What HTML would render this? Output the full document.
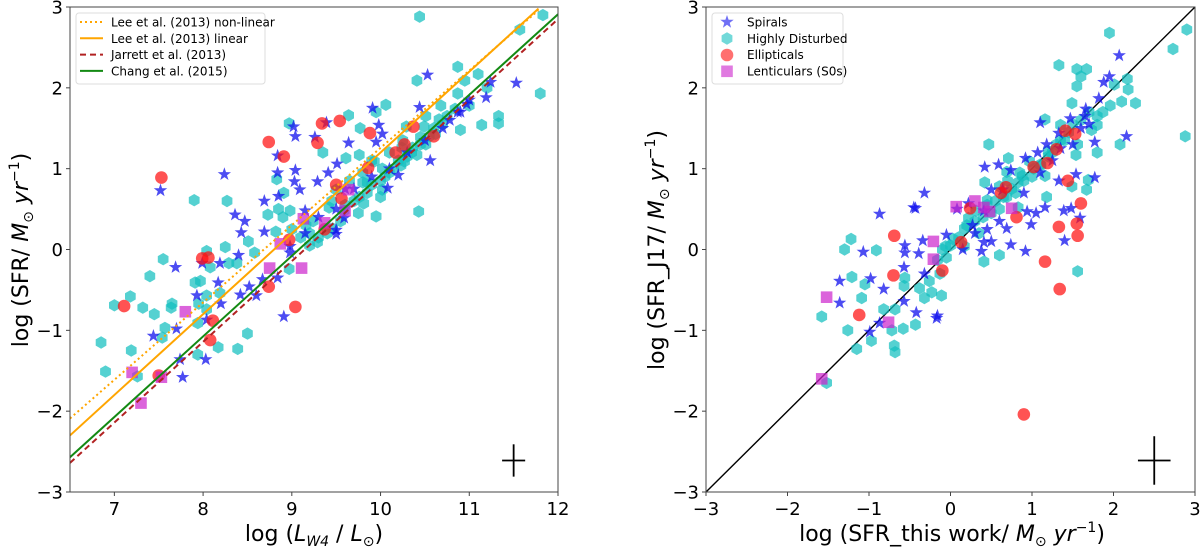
<!DOCTYPE html>
<html><head><meta charset="utf-8"><style>
body{margin:0;background:#fff}
svg{display:block;font-family:"DejaVu Sans","Liberation Sans",sans-serif}
</style></head><body>
<svg id="fig" width="1200" height="551"></svg>
<script>
// ---- Left panel data ----
const L_cyanX=[10.44,11.83,11.57,11.8,10.87,10.41,11.1,10.95,10.87,11.2,10.06,9.95,9.64,8.97,9.77,10.9,11.14,11.33,11.33,10.29,10.51,10.68,9.35,9.61,9.76,9.93,10.41,10.51,10.24,10.02,8.83,8.91,10.43,9.95,7.9,8.27,8.51,8.58,8.73,8.82,8.98,9.16,9.29,9.46,9.76,9.85,9.59,9.2,8.97,8.25,8.04,8.08,8.29,8.38,7.55,7.4,7.91,7.97,8.04,8.19,7.18,7.0,7.32,7.45,7.65,7.64,7.95,8.04,7.57,7.54,7.94,6.85,7.19,8.5,8.17,8.39,7.94,6.9,7.26,9.8,10.02,10.23,10.36,10.62,10.75,10.49,9.5,9.42,9.24,9.81,10.1,10.27,10.45,10.66,10.84,11.0,
9.4,9.55,9.6,9.7,9.75,9.85,9.9,10.0,10.05,10.15,10.2,10.3,10.35,10.45,10.55,10.6,10.7,9.3,9.2,9.1,9.0,8.9,8.85,9.45,9.65,9.8,10.1,10.25,9.9,10.0];
const L_cyanY=[2.88,2.9,2.72,1.93,2.26,2.09,2.17,2.09,1.93,2.0,1.79,1.7,1.66,1.56,1.5,1.48,1.54,1.65,1.56,1.52,1.65,1.78,1.2,1.13,1.17,1.09,1.17,1.3,1.26,1.0,0.87,0.7,0.47,0.41,0.61,0.6,0.1,-0.04,0.43,0.22,0.48,0.3,0.09,0.26,0.65,0.83,0.48,0.05,-0.24,0.03,-0.02,-0.22,-0.17,-0.17,-0.12,-0.33,-0.41,-0.39,-0.57,-0.54,-0.58,-0.69,-0.72,-0.8,-0.67,-0.72,-0.67,-0.74,-0.97,-1.09,-0.91,-1.15,-1.25,-1.04,-1.21,-1.23,-1.3,-1.51,-1.57,0.83,0.74,1.04,1.26,1.43,1.65,1.52,0.74,0.52,0.35,0.57,0.95,1.09,1.39,1.61,1.74,1.78,
0.2,0.35,0.55,0.6,0.45,0.7,0.8,0.85,0.9,1.0,1.1,1.15,1.2,1.3,1.4,1.5,1.55,0.15,0.2,0.15,0.25,0.4,0.5,0.6,0.85,0.95,1.2,1.35,1.1,0.65];
const L_starX=[10.53,11.53,11.24,11.19,10.97,10.78,10.87,9.91,10.44,9.98,9.95,10.02,9.02,9.04,9.26,9.39,9.64,8.84,8.24,7.52,8.84,9.04,9.03,9.09,9.29,9.41,9.51,10.56,10.2,10.08,8.69,8.85,8.36,8.47,8.43,8.69,9.15,9.5,9.5,9.59,8.4,7.69,7.99,8.19,8.17,7.93,8.2,8.42,8.52,8.6,8.67,8.84,8.98,7.7,7.44,8.04,7.74,8.03,7.77,8.91,8.98,
9.7,9.9,10.1,10.3,10.5,10.7,9.5,9.3,9.15,9.6,10.9,11.0];
const L_starY=[2.16,2.06,2.07,1.88,1.8,1.6,1.7,1.75,1.76,1.54,1.33,1.43,1.52,1.4,1.39,1.57,1.32,1.16,0.93,0.73,0.95,0.98,0.84,0.74,0.84,0.95,1.06,1.1,0.92,0.76,0.6,0.66,0.43,0.35,0.21,0.22,0.48,0.24,0.19,0.39,-0.07,-0.22,-0.17,-0.17,-0.41,-0.57,-0.67,-0.56,-0.46,-0.57,-0.37,-0.35,-0.04,-0.98,-1.07,-0.87,-1.36,-1.36,-1.58,-0.83,0.04,
0.75,0.9,1.0,1.2,1.35,1.5,0.5,0.4,0.2,0.75,1.7,1.85];
const L_redX=[7.53,8.74,8.91,9.34,9.54,9.29,9.88,10.37,10.6,10.27,10.17,9.86,9.5,9.56,8.97,7.99,8.06,8.74,9.04,7.11,8.11,8.08,7.5,9.37];
const L_redY=[0.89,1.33,1.15,1.56,1.59,1.32,1.44,1.52,1.4,1.3,1.2,1.01,0.8,0.63,0.12,-0.11,-0.1,-0.46,-0.71,-0.7,-0.88,-1.12,-1.56,0.25];
const L_magX=[9.64,9.13,9.37,9.6,8.87,8.75,9.11,7.8,7.2,7.53,7.3];
const L_magY=[0.74,0.38,0.33,0.48,0.07,-0.23,-0.23,-0.77,-1.52,-1.58,-1.9];
const L_xTicks=[7,8,9,10,11,12];
const yTicks=[-3,-2,-1,0,1,2,3];
const leeNonlin=[6.5,-2.09,11.78,2.96];
const leeLin=[6.5,-2.3,11.78,2.98];
const jarrett=[6.5,-2.64,12,2.85];
const chang=[6.5,-2.57,12,2.91];
const L_err=[11.5,-2.61,0.13,0.2];

// ---- Right panel data ----
const R_cyanX=[1.95,2.9,2.73,2.88,1.33,1.55,1.67,1.6,1.55,1.49,2.01,2.17,2.18,2.1,2.27,1.96,1.8,1.8,1.16,1.35,0.47,0.71,2.08,1.8,1.56,1.54,1.49,1.67,1.69,0.42,1.18,1.56,0.6,0.41,0.88,0.97,1.2,0.69,0.83,0.22,0.03,0.17,-0.16,-0.13,-0.26,-0.11,-0.23,-0.32,-0.43,-0.38,-0.56,-0.57,-0.58,-0.68,-0.72,-0.69,-0.68,-0.82,-0.91,-1.05,-1.09,-1.22,-1.3,-1.21,-1.58,-1.26,-1.15,-0.97,-1.52,1.16,0.45,0.31,1.11,1.35,1.73,1.87,0.83,1.02,0.6,0.17,-0.06,0.69,
0.2,0.3,0.4,0.5,0.55,0.65,0.75,0.8,0.9,1.0,1.1,1.2,1.3,1.4,1.45,1.5,1.6,1.7,0.1,0.0,-0.1,0.35,0.6,0.85,1.25,-0.05,0.45,0.7];
const R_cyanY=[2.68,2.72,2.48,1.4,2.28,2.23,2.23,2.14,2.02,1.81,2.04,2.11,1.98,1.83,1.81,1.78,1.65,1.54,1.61,1.54,1.3,1.13,1.3,1.2,1.3,1.17,0.78,0.74,0.86,0.83,0.65,-0.27,-0.07,-0.15,0.91,1.09,1.22,0.65,0.52,0.39,0.13,0.04,-0.13,-0.3,-0.39,-0.57,-0.53,-0.6,-0.93,-0.48,-0.35,-0.45,-0.98,-0.74,-1.0,-1.19,-1.27,-0.74,-0.01,-0.43,-0.6,0.13,0.0,-0.34,-0.83,-1.0,-1.23,-1.13,-1.65,0.91,0.61,0.48,1.04,1.35,1.48,1.7,0.83,1.0,0.78,0.26,0.04,0.96,
0.3,0.35,0.4,0.45,0.6,0.65,0.75,0.7,0.85,0.9,1.05,1.15,1.3,1.35,1.45,1.55,1.6,1.7,0.15,0.05,0.0,0.2,0.5,0.95,1.2,-0.1,0.55,0.85];
const R_starX=[2.07,1.95,1.88,1.82,1.66,1.65,2.16,1.77,1.1,1.47,1.33,1.18,1.07,0.92,0.42,0.59,0.74,1.33,1.54,1.77,0.64,0.5,-0.32,-0.45,-0.43,-0.87,0.08,0.22,0.41,0.94,1.05,0.99,1.39,1.48,1.59,1.16,1.4,0.74,0.92,-0.56,-0.56,-0.39,-0.34,-1.07,-0.05,0.38,-0.57,-0.32,-1.36,-0.98,-0.82,-1.36,-0.57,-0.42,-0.16,-0.17,-0.87,-0.99,0.41,0.69,0.27,
0.3,0.45,0.6,0.9,1.1,1.25,1.5,1.6,0.15,0.5,1.35,1.7];
const R_starY=[2.4,2.14,2.07,1.87,1.74,1.65,1.4,1.33,1.57,1.62,1.44,1.3,1.2,1.13,1.02,1.05,0.98,0.85,0.93,0.89,0.74,0.74,0.7,0.52,0.51,0.44,0.5,0.57,0.48,0.47,0.45,0.31,0.48,0.51,0.39,0.52,0.11,0.06,-0.02,0.05,-0.04,-0.05,0.11,-0.03,0.18,-0.02,-0.22,-0.3,-0.39,-0.36,-0.49,-0.66,-0.64,-0.78,-0.82,-0.85,-0.91,-1.02,0.09,0.26,0.3,
0.2,0.25,0.35,0.7,0.95,1.1,1.3,1.5,0.0,0.1,1.25,1.55];
const R_redX=[1.41,1.53,1.3,1.19,1.02,0.68,0.62,1.44,1.6,0.81,0.24,1.33,1.55,1.56,-0.69,0.13,-0.1,-0.7,1.16,1.34,-1.12,0.9];
const R_redY=[1.47,1.43,1.24,1.07,1.02,0.77,0.7,0.85,0.57,0.4,0.51,0.28,0.32,0.17,0.17,0.09,-0.26,-0.32,-0.15,-0.49,-0.81,-2.04];
const R_magX=[0.07,0.3,0.41,0.48,0.75,-0.21,-0.21,-1.52,-0.76,-1.58];
const R_magY=[0.53,0.6,0.52,0.47,0.51,0.1,-0.12,-0.59,-0.9,-1.6];
const R_xTicks=[-3,-2,-1,0,1,2,3];
const R_err=[2.5,-2.61,0.2,0.3];

const NS='http://www.w3.org/2000/svg';
const svg=document.getElementById('fig');
function mk(tag,attrs,parent){const e=document.createElementNS(NS,tag);for(const k in attrs)e.setAttribute(k,attrs[k]);(parent||svg).appendChild(e);return e;}
function axis(x0,x1,px0,px1){return v=>px0+(v-x0)/(x1-x0)*(px1-px0);}
const yTop=7,yBot=492;
function starPath(cx,cy,R){const r=R*0.4;let d='';for(let i=0;i<10;i++){const a=-Math.PI/2+i*Math.PI/5;const rr=i%2?r:R;d+=(i?'L':'M')+(cx+rr*Math.cos(a)).toFixed(1)+','+(cy+rr*Math.sin(a)).toFixed(1);}return d+'Z';}
function hexPath(cx,cy,R){let d='';for(let i=0;i<6;i++){const a=-Math.PI/2+i*Math.PI/3;d+=(i?'L':'M')+(cx+R*Math.cos(a)).toFixed(1)+','+(cy+R*Math.sin(a)).toFixed(1);}return d+'Z';}

function panel(g,sx,sy,cx,cy,sx2,sy2,rx,ry,mx,my){
  for(let i=0;i<cx.length;i++){const p=mk('path',{d:hexPath(sx(cx[i]),sy(cy[i]),6.2),fill:'#14bfbf','fill-opacity':0.72},g);
    
    }
  for(let i=0;i<sx2.length;i++){const p=mk('path',{d:starPath(sx(sx2[i]),sy(sy2[i]),7),fill:'#1010ee','fill-opacity':0.75},g);
    
    }
  for(let i=0;i<rx.length;i++){const p=mk('circle',{cx:sx(rx[i]),cy:sy(ry[i]),r:6.3,fill:'#ff1010','fill-opacity':0.72},g);
    
    }
  for(let i=0;i<mx.length;i++){const p=mk('rect',{x:sx(mx[i])-5.8,y:sy(my[i])-5.8,width:11.6,height:11.6,fill:'#cc22cc','fill-opacity':0.7},g);
    
    }
}
function frame(g,px0,px1,sx,sy,xt){
  mk('rect',{x:px0,y:yTop,width:px1-px0,height:yBot-yTop,fill:'none',stroke:'#444','stroke-width':1},g);
  xt.forEach(v=>{const x=sx(v);mk('line',{x1:x,x2:x,y1:yBot,y2:yBot+4,stroke:'#444'},g);
    const t=mk('text',{x:x,y:515,'font-size':18,'text-anchor':'middle'},g);t.textContent=(v<0?'\u2212'+(-v):v);
    
    });
  yTicks.forEach(v=>{const y=sy(v);mk('line',{x1:px0-4,x2:px0,y1:y,y2:y,stroke:'#444'},g);
    const t=mk('text',{x:px0-7,y:y+6.5,'font-size':18,'text-anchor':'end'},g);t.textContent=(v<0?'\u2212'+(-v):v);
    
    });
}
function errCross(g,sx,sy,e){mk('line',{x1:sx(e[0]-e[2]),x2:sx(e[0]+e[2]),y1:sy(e[1]),y2:sy(e[1]),stroke:'#000','stroke-width':1.8},g);
  mk('line',{x1:sx(e[0]),x2:sx(e[0]),y1:sy(e[1]-e[3]),y2:sy(e[1]+e[3]),stroke:'#000','stroke-width':1.8},g);}

// LEFT
const gL=mk('g',{});
const lx=axis(6.5,12,70,558), ly=axis(-3,3,yBot,yTop);
const cp=mk('clipPath',{id:'cl'});mk('rect',{x:70,y:yTop,width:488,height:yBot-yTop},cp);
const gLd=mk('g',{'clip-path':'url(#cl)'},gL);
panel(gLd,lx,ly,L_cyanX,L_cyanY,L_starX,L_starY,L_redX,L_redY,L_magX,L_magY);
function rel(a,col,dash,name){const l=mk('line',{x1:lx(a[0]),y1:ly(a[1]),x2:lx(a[2]),y2:ly(a[3]),stroke:col,'stroke-width':2,'stroke-dasharray':dash},gLd);
  }
rel(leeNonlin,'#ffa500','2,3','lee-nonlinear-line');
rel(leeLin,'#ffa500','none','lee-linear-line');
rel(jarrett,'#b22222','6,4','jarrett-line');
rel(chang,'#138a13','none','chang-line');
errCross(gL,lx,ly,L_err);
frame(gL,70,558,lx,ly,L_xTicks);
const lg=mk('g',{});
mk('rect',{x:76,y:13,width:189,height:71,rx:3,fill:'#fff','fill-opacity':0.85,stroke:'#ddd'},lg);
[['Lee et al. (2013) non-linear','#ffa500','2,3'],['Lee et al. (2013) linear','#ffa500','none'],['Jarrett et al. (2013)','#b22222','6,4'],['Chang et al. (2015)','#138a13','none']].forEach((e,i)=>{
  const y=22+i*16.3;mk('line',{x1:80,x2:103,y1:y,y2:y,stroke:e[1],'stroke-width':2,'stroke-dasharray':e[2]},lg);
  const t=mk('text',{x:111,y:y+4.5,'font-size':12},lg);t.textContent=e[0];
  });
let t=mk('text',{x:0,y:0,'font-size':22,'text-anchor':'middle',transform:'translate(28,250) rotate(-90)'},gL);
t.innerHTML='log (SFR/ <tspan font-style="italic">M</tspan><tspan font-size="14" dy="5">⊙</tspan><tspan dy="-5"> </tspan><tspan font-style="italic">yr</tspan><tspan font-size="14" dy="-9">−1</tspan><tspan dy="9">)</tspan>';

t=mk('text',{x:314,y:541,'font-size':22,'text-anchor':'middle'},gL);
t.innerHTML='log (<tspan font-style="italic">L</tspan><tspan font-size="14" dy="5" font-style="italic">W4</tspan><tspan dy="-5"> / </tspan><tspan font-style="italic">L</tspan><tspan font-size="14" dy="5">⊙</tspan><tspan dy="-5">)</tspan>';


// RIGHT
const gR=mk('g',{});
const rx=axis(-3,3,706,1195), ry=axis(-3,3,yBot,yTop);
const oneToOne=[-3,3];
const ol=mk('line',{x1:rx(oneToOne[0]),y1:ry(oneToOne[0]),x2:rx(oneToOne[1]),y2:ry(oneToOne[1]),stroke:'#000','stroke-width':1.4},gR);

panel(gR,rx,ry,R_cyanX,R_cyanY,R_starX,R_starY,R_redX,R_redY,R_magX,R_magY);
errCross(gR,rx,ry,R_err);
frame(gR,706,1195,rx,ry,R_xTicks);
const rg=mk('g',{});
mk('rect',{x:712,y:13,width:131,height:71,rx:3,fill:'#fff','fill-opacity':0.85,stroke:'#ddd'},rg);
mk('path',{d:starPath(727,22,7),fill:'#1010ee','fill-opacity':0.6},rg);
mk('path',{d:hexPath(727,38.5,6.2),fill:'#14bfbf','fill-opacity':0.6},rg);
mk('circle',{cx:727,cy:55,r:6.3,fill:'#ff1010','fill-opacity':0.6},rg);
mk('rect',{x:721.2,y:65.5,width:11.6,height:11.6,fill:'#cc22cc','fill-opacity':0.6},rg);
['Spirals','Highly Disturbed','Ellipticals','Lenticulars (S0s)'].forEach((s,i)=>{const tt=mk('text',{x:747,y:26.5+i*16.3,'font-size':12},rg);tt.textContent=s;
  });
t=mk('text',{x:0,y:0,'font-size':22,'text-anchor':'middle',transform:'translate(664,250) rotate(-90)'},gR);
t.innerHTML='log (SFR_J17/ <tspan font-style="italic">M</tspan><tspan font-size="14" dy="5">⊙</tspan><tspan dy="-5"> </tspan><tspan font-style="italic">yr</tspan><tspan font-size="14" dy="-9">−1</tspan><tspan dy="9">)</tspan>';

t=mk('text',{x:952,y:541,'font-size':22,'text-anchor':'middle'},gR);
t.innerHTML='log (SFR_this work/ <tspan font-style="italic">M</tspan><tspan font-size="14" dy="5">⊙</tspan><tspan dy="-5"> </tspan><tspan font-style="italic">yr</tspan><tspan font-size="14" dy="-9">−1</tspan><tspan dy="9">)</tspan>';

</script>
</body></html>
